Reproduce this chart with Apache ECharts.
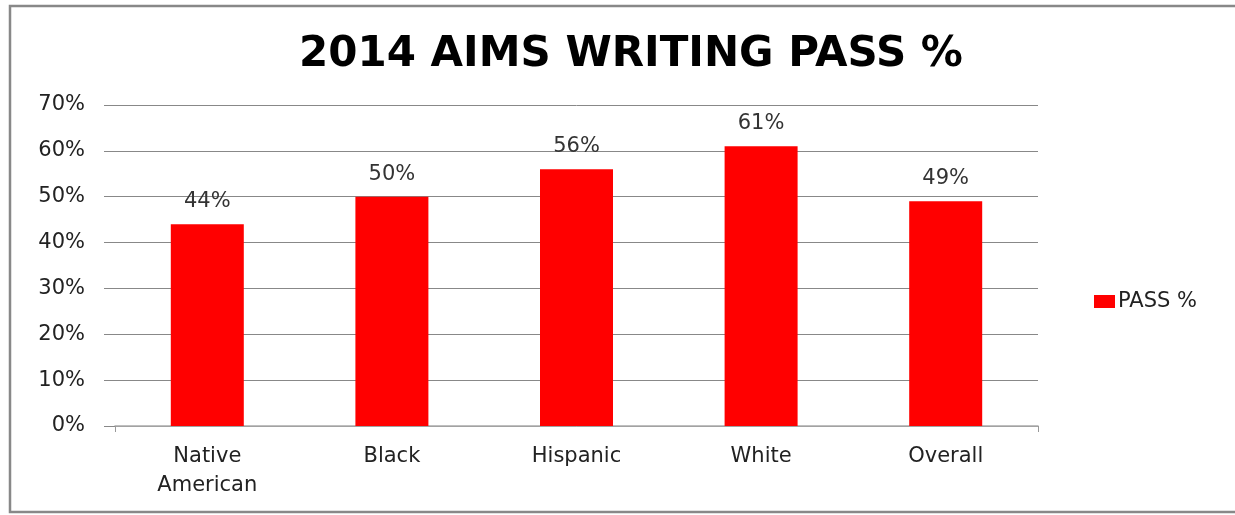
<!DOCTYPE html>
<html>
<head>
<meta charset="utf-8">
<script src="https://cdn.jsdelivr.net/npm/echarts@6/dist/echarts.min.js"></script>
<style>
html,body{margin:0;padding:0;background:#fff;}
#chart{width:1235px;height:515px;}
</style>
</head>
<body>
<div id="chart"></div>
<script>
const titleText = '2014 AIMS WRITING PASS %';
const categories = ['Native\nAmerican', 'Black', 'Hispanic', 'White', 'Overall'];
const seriesName = 'PASS %';
const passValues = [44, 50, 56, 61, 49];
const yMin = 0, yMax = 70, yInterval = 10;

const chart = echarts.init(document.getElementById('chart'), null, {renderer: 'canvas'});
const font = 'DejaVu Sans';
chart.setOption({
  backgroundColor: '#fff',
  animation: false,
  graphic: [{
    type: 'rect',
    shape: {x: 10, y: 6, width: 1300, height: 506},
    style: {fill: 'none', stroke: '#888', lineWidth: 2.5},
    silent: true
  }],
  title: {
    text: titleText,
    left: 626, top: 50, textAlign: 'center', textVerticalAlign: 'middle',
    textStyle: {fontFamily: font, fontWeight: 'bold', fontSize: 42, color: '#000'}
  },
  legend: {
    data: [seriesName],
    left: 1089, top: 286,
    itemWidth: 21, itemHeight: 13, itemGap: 5,
    icon: 'rect',
    textStyle: {fontFamily: font, fontSize: 21, color: '#222', padding: [0,0,0,-2]}
  },
  grid: {left: 115, right: 197, top: 105, bottom: 89, containLabel: false},
  xAxis: {
    type: 'category',
    data: categories,
    axisLine: {lineStyle: {color: '#aaa', width: 1.5}},
    axisTick: {show: true, length: 6, interval: function (i) { return i === 3; }, lineStyle: {color: '#999'}},
    axisLabel: {fontFamily: font, fontSize: 21, color: '#222', margin: 16, lineHeight: 29}
  },
  yAxis: {
    type: 'value',
    min: yMin, max: yMax, interval: yInterval,
    axisLine: {show: false},
    axisTick: {show: true, length: 11, lineStyle: {color: '#888'}},
    splitLine: {lineStyle: {color: '#888', width: 1}},
    axisLabel: {fontFamily: font, fontSize: 21, color: '#222', margin: 30, formatter: '{value}%'}
  },
  series: [{
    name: seriesName,
    type: 'bar',
    data: passValues,
    barWidth: 73,
    itemStyle: {color: '#ff0000'},
    label: {show: true, position: 'top', distance: 12, fontFamily: font, fontSize: 21, color: '#333', formatter: '{c}%'}
  }]
});
</script>
</body>
</html>
